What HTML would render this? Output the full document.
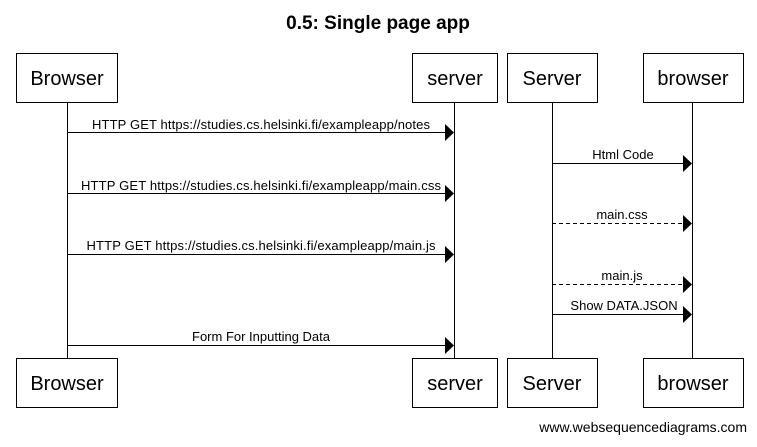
<!DOCTYPE html>
<html><head><style>body{margin:0;background:#fff}</style></head><body>
<svg width="757" height="442" xmlns="http://www.w3.org/2000/svg" font-family="Liberation Sans, Arial, sans-serif">
<rect width="757" height="442" fill="#fff"/>
<text x="378" y="29" text-anchor="middle" font-size="19" font-weight="bold">0.5: Single page app</text>
<g stroke="#000" stroke-width="1" fill="none">
<line x1="67.5" y1="102" x2="67.5" y2="358"/>
<line x1="454.5" y1="102" x2="454.5" y2="358"/>
<line x1="552.5" y1="102" x2="552.5" y2="358"/>
<line x1="692.5" y1="102" x2="692.5" y2="358"/>
<rect x="16.5" y="53.5" width="101" height="49" fill="#fff"/>
<rect x="412.5" y="53.5" width="85" height="49" fill="#fff"/>
<rect x="507.5" y="53.5" width="90" height="49" fill="#fff"/>
<rect x="643.5" y="53.5" width="100" height="49" fill="#fff"/>
<rect x="16.5" y="358.5" width="101" height="49" fill="#fff"/>
<rect x="412.5" y="358.5" width="85" height="49" fill="#fff"/>
<rect x="507.5" y="358.5" width="90" height="49" fill="#fff"/>
<rect x="643.5" y="358.5" width="100" height="49" fill="#fff"/>
<line x1="67" y1="132.5" x2="446" y2="132.5"/>
<line x1="67" y1="193.5" x2="446" y2="193.5"/>
<line x1="67" y1="254.5" x2="446" y2="254.5"/>
<line x1="67" y1="345.5" x2="446" y2="345.5"/>
<line x1="552" y1="163.5" x2="684" y2="163.5"/>
<line x1="552" y1="223.5" x2="684" y2="223.5" stroke-dasharray="4,3"/>
<line x1="552" y1="284.5" x2="684" y2="284.5" stroke-dasharray="4,3"/>
<line x1="552" y1="314.5" x2="684" y2="314.5"/>
</g>
<g fill="#000">
<polygon points="445,124 454,132.5 445,141"/>
<polygon points="445,185 454,193.5 445,202"/>
<polygon points="445,246 454,254.5 445,263"/>
<polygon points="445,337 454,345.5 445,354"/>
<polygon points="683,155 692,163.5 683,172"/>
<polygon points="683,215 692,223.5 683,232"/>
<polygon points="683,276 692,284.5 683,293"/>
<polygon points="683,306 692,314.5 683,323"/>
</g>
<g font-size="20" text-anchor="middle">
<text x="67" y="85">Browser</text>
<text x="455" y="85">server</text>
<text x="552" y="85">Server</text>
<text x="693" y="85">browser</text>
<text x="67" y="390">Browser</text>
<text x="455" y="390">server</text>
<text x="552" y="390">Server</text>
<text x="693" y="390">browser</text>
</g>
<g font-size="13" text-anchor="middle">
<text x="261" y="129" textLength="338">HTTP GET https://studies.cs.helsinki.fi/exampleapp/notes</text>
<text x="261" y="190" textLength="360">HTTP GET https://studies.cs.helsinki.fi/exampleapp/main.css</text>
<text x="261" y="250" textLength="349">HTTP GET https://studies.cs.helsinki.fi/exampleapp/main.js</text>
<text x="261" y="341">Form For Inputting Data</text>
<text x="623" y="159">Html Code</text>
<text x="622" y="219">main.css</text>
<text x="622" y="280">main.js</text>
<text x="624" y="310">Show DATA.JSON</text>
</g>
<text x="747" y="432" font-size="14" text-anchor="end">www.websequencediagrams.com</text>
</svg>
</body></html>
